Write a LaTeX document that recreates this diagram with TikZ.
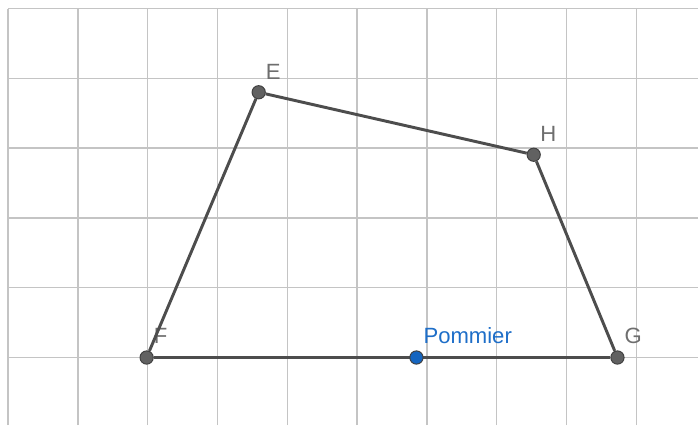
\documentclass[tikz,border=0pt]{standalone}
\usepackage{fontspec}
\setmainfont{Liberation Sans}
\usepackage{tikz}
\usetikzlibrary{positioning}

\definecolor{gridgray}{RGB}{196,196,196}
\definecolor{sidegray}{RGB}{77,77,77}
\definecolor{ptgray}{RGB}{97,97,97}
\definecolor{lblgray}{RGB}{110,110,110}
\definecolor{ptblue}{RGB}{21,101,192}
\definecolor{lblblue}{RGB}{30,110,200}

\begin{document}
\begin{tikzpicture}[
    gridline/.style = {draw=gridgray, line width=0.55pt},
    side/.style = {draw=sidegray, line width=1.2pt},
    point/.style = {circle, draw=black!75, line width=0.4pt, fill=ptgray, minimum size=0.19cm, inner sep=0pt},
    bluepoint/.style = {point, fill=ptblue},
    ptlabel/.style = {anchor=base west, inner sep=0pt, text=lblgray, font=\fontsize{9}{10}\selectfont},
    bluelabel/.style = {ptlabel, text=lblblue}]

\useasboundingbox (-2.116,-0.967) rectangle (7.884,5.122);

% grid
\foreach \x in {-2,...,7}
  \draw[gridline] (\x,-0.967) -- (\x,5);
\foreach \y in {0,...,5}
  \draw[gridline] (-2,\y) -- (7.884,\y);

\node[point] (F) at (-0.015,0) {};
\node[point] (E) at (1.59,3.80) {};
\node[point] (H) at (5.53,2.905) {};
\node[point] (G) at (6.73,0) {};

\node[ptlabel] (lF) at ([shift={(0.095,0.2)}]F.center) {F};
\node[ptlabel] (lE) at ([shift={(0.095,0.19)}]E.center) {E};
\node[ptlabel] (lH) at ([shift={(0.09,0.19)}]H.center) {H};
\node[ptlabel] (lG) at ([shift={(0.095,0.2)}]G.center) {G};

%connectors
\draw[side] (F) -- (E);
\draw[side] (E) -- (H);
\draw[side] (H) -- (G);
\draw[side] (G) -- (F);

\node[bluepoint] (P) at (3.85,0) {};
\node[bluelabel] (lP) at ([shift={(0.095,0.2)}]P.center) {Pommier};
\end{tikzpicture}
\end{document}
